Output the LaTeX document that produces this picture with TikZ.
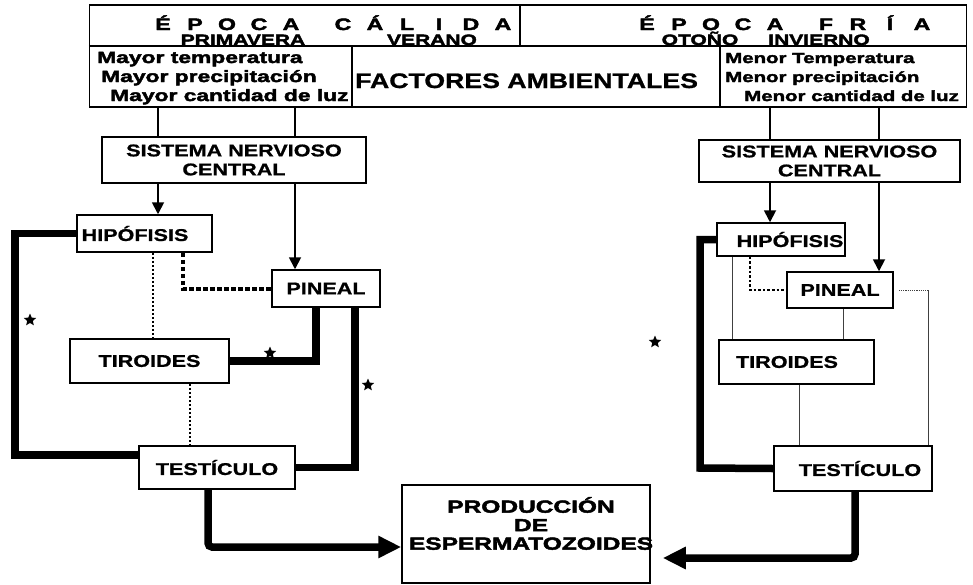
\documentclass[tikz,border=0pt]{standalone}
\usepackage{fontspec}
\setmainfont{Liberation Sans}
\newfontfamily\labfont{Liberation Sans}[FakeStretch=1.27,FakeBold=1]
\newfontfamily\heavyfont{Liberation Sans}[FakeStretch=1.4,FakeBold=2.6]
\usetikzlibrary{arrows.meta,shapes.geometric}
\newcommand\lsp[1]{\makebox[32pt]{#1}}
\begin{document}
\begin{tikzpicture}[x=1pt,y=-1pt,
  box/.style={draw,line width=1.5pt,inner sep=0pt,align=center,
    font=\labfont\bfseries\fontsize{17}{19}\selectfont},
  heavy/.style={inner sep=0pt,font=\heavyfont\bfseries\fontsize{16.3}{19}\selectfont},
  heavyr/.style={inner sep=0pt,font=\heavyfont\bfseries\fontsize{14.6}{19}\selectfont},
  headtxt/.style={inner sep=0pt,font=\heavyfont\bfseries\fontsize{15}{17}\selectfont},
  headbig/.style={inner sep=0pt,font=\heavyfont\bfseries\fontsize{16.5}{18}\selectfont},
  prodtxt/.style={inner sep=0pt,align=center,font=\heavyfont\bfseries\fontsize{17.5}{18.5}\selectfont},
  conn/.style={line width=1.8pt},
  arr/.style={line width=1.8pt,-{Triangle[length=12pt,width=12pt]}},
  thickc/.style={line width=7.5pt},
  bigarr/.style={line width=7.5pt,rounded corners=4pt,-{Triangle[length=23pt,width=21pt]}},
  dotthin/.style={line width=2.5pt,dash pattern=on 2pt off 2pt},
  dotthick/.style={line width=4pt,dash pattern=on 4.5pt off 2.5pt},
  dotmed/.style={line width=2.6pt,dash pattern=on 2.6pt off 2pt},
  lightc/.style={line width=0.9pt,black!75},
  lightdot/.style={line width=0.9pt,black!75,dash pattern=on 1.2pt off 1pt},
  astar/.style={star,star points=5,star point ratio=2.2,fill,inner sep=0pt,minimum size=13pt}]
\useasboundingbox[fill=white] (0,0) rectangle (973,584);

% ---------- top table ----------
\node[draw,line width=1.5pt,inner sep=0pt,minimum width=877pt,minimum height=102pt] (tabla) at (528,56) {};
\draw[line width=1.5pt] (tabla.west |- 0,46) -- (tabla.east |- 0,46);
\draw[line width=1.5pt] (520,0 |- tabla.north) -- (520,46);
\draw[line width=1.5pt] (352,46) -- (352,0 |- tabla.south);
\draw[line width=1.5pt] (720,46) -- (720,0 |- tabla.south);

\node[headbig,anchor=base] (ecal) at (333,30) {\lsp{É}\lsp{P}\lsp{O}\lsp{C}\lsp{A}\hspace{20pt}\lsp{C}\lsp{Á}\lsp{L}\lsp{I}\lsp{D}\lsp{A}};
\node[headbig,anchor=base] (efri) at (784.5,30) {\lsp{É}\lsp{P}\lsp{O}\lsp{C}\lsp{A}\hspace{19pt}\lsp{F}\lsp{R}\lsp{Í}\lsp{A}};
\node[headtxt,anchor=base] (prim) at (243,45) {PRIMAVERA};
\node[headtxt,anchor=base] (ver) at (432,45) {VERANO};
\node[headtxt,anchor=base] (oto) at (700,45) {OTOÑO};
\node[headtxt,anchor=base] (inv) at (819,45) {INVIERNO};

\node[heavy,anchor=base west] (may1) at (97,63) {Mayor temperatura};
\node[heavy,anchor=base west] (may2) at (101,82) {Mayor precipitación};
\node[heavy,anchor=base west] (may3) at (110,101) {Mayor cantidad de luz};
\node[heavyr,anchor=base west] (men1) at (725,63) {Menor Temperatura};
\node[heavyr,anchor=base west] (men2) at (725,82) {Menor precipitación};
\node[heavyr,anchor=base west] (men3) at (744,101) {Menor cantidad de luz};
\node[inner sep=0pt,anchor=base west,font=\labfont\bfseries\fontsize{21}{24}\selectfont] (fact) at (355,88) {FACTORES AMBIENTALES};

% ---------- left column ----------
\node[box,minimum width=264pt,minimum height=46pt] (snc1) at (234,160) {SISTEMA NERVIOSO\\CENTRAL};
\node[box,minimum width=135pt,minimum height=37pt] (hip1) at (144.5,233.5) {\hspace*{-19pt}HIPÓFISIS};
\node[box,minimum width=108pt,minimum height=37pt] (pin1) at (326,288.5) {PINEAL};
\node[box,minimum width=159pt,minimum height=44pt] (tir1) at (149.5,361) {TIROIDES};
\node[box,minimum width=156pt,minimum height=43pt] (tes1) at (217,467.5) {TESTÍCULO};

% ---------- right column ----------
\node[box,minimum width=261pt,minimum height=42pt] (snc2) at (829.5,161) {SISTEMA NERVIOSO\\CENTRAL};
\node[box,minimum width=128pt,minimum height=33pt] (hip2) at (781,239.5) {\hspace*{18pt}HIPÓFISIS};
\node[box,minimum width=106pt,minimum height=36pt] (pin2) at (840,290) {PINEAL};
\node[box,minimum width=155pt,minimum height=44pt] (tir2) at (796.5,362) {\hspace*{-19pt}TIROIDES};
\node[box,minimum width=158pt,minimum height=45pt] (tes2) at (853,468.5) {\hspace*{14pt}TESTÍCULO};

% ---------- production ----------
\node[box,minimum width=248pt,minimum height=98pt] (prod) at (526,534) {};
\node[prodtxt] (prodlab) at (531,523.5) {PRODUCCIÓN\\DE\\ESPERMATOZOIDES};

% ---------- left connectors ----------
\draw[conn] (158,0 |- tabla.south) -- (158,0 |- snc1.north);
\draw[conn] (295,0 |- tabla.south) -- (295,0 |- snc1.north);
\draw[arr] (158,0 |- snc1.south) -- (158,0 |- hip1.north);
\draw[arr] (295,0 |- snc1.south) -- (295,0 |- pin1.north);
\draw[dotthin] (153,0 |- hip1.south) -- (153,0 |- tir1.north);
\draw[dotthick] (183,0 |- hip1.south) |- (pin1.west);
\draw[thickc] (hip1.west) -| (15,455) -- (tes1.west |- 15,455);
\draw[thickc] (tir1.east) -| (pin1.south -| 316,0);
\draw[thickc] (tes1.east) -| (pin1.south -| 355,0);
\draw[dotthin] (190,0 |- tir1.south) -- (190,0 |- tes1.north);
\draw[bigarr] (208,0 |- tes1.south) -- (208,547) -- (prod.west |- 208,547);
\node[astar] (st1) at (30,320) {};
\node[astar] (st2) at (270,353) {};
\node[astar] (st3) at (368,385) {};

% ---------- right connectors ----------
\draw[conn] (770,0 |- tabla.south) -- (770,0 |- snc2.north);
\draw[conn] (879,0 |- tabla.south) -- (879,0 |- snc2.north);
\draw[arr] (770,0 |- snc2.south) -- (770,0 |- hip2.north);
\draw[arr] (879,0 |- snc2.south) -- (879,0 |- pin2.north);
\draw[thickc] (hip2.west) -| (700,468) -- (tes2.west);
\draw[lightc] (732,0 |- hip2.south) -- (732,0 |- tir2.north);
\draw[dotmed] (750,0 |- hip2.south) |- (pin2.west);
\draw[lightc] (843,0 |- pin2.south) -- (843,0 |- tir2.north);
\draw[lightdot] ([xshift=5pt]pin2.east) -- (928,0 |- pin2.east);
\draw[lightc] (928,0 |- pin2.east) -- (928,0 |- tes2.north);
\draw[lightc] (799,0 |- tir2.south) -- (799,0 |- tes2.north);
\coordinate (pe) at ([xshift=12pt]prod.east);
\draw[bigarr] (855,0 |- tes2.south) -- (855,558) -- (pe |- 855,558);
\node[astar] (st4) at (655,342) {};
\end{tikzpicture}
\end{document}
